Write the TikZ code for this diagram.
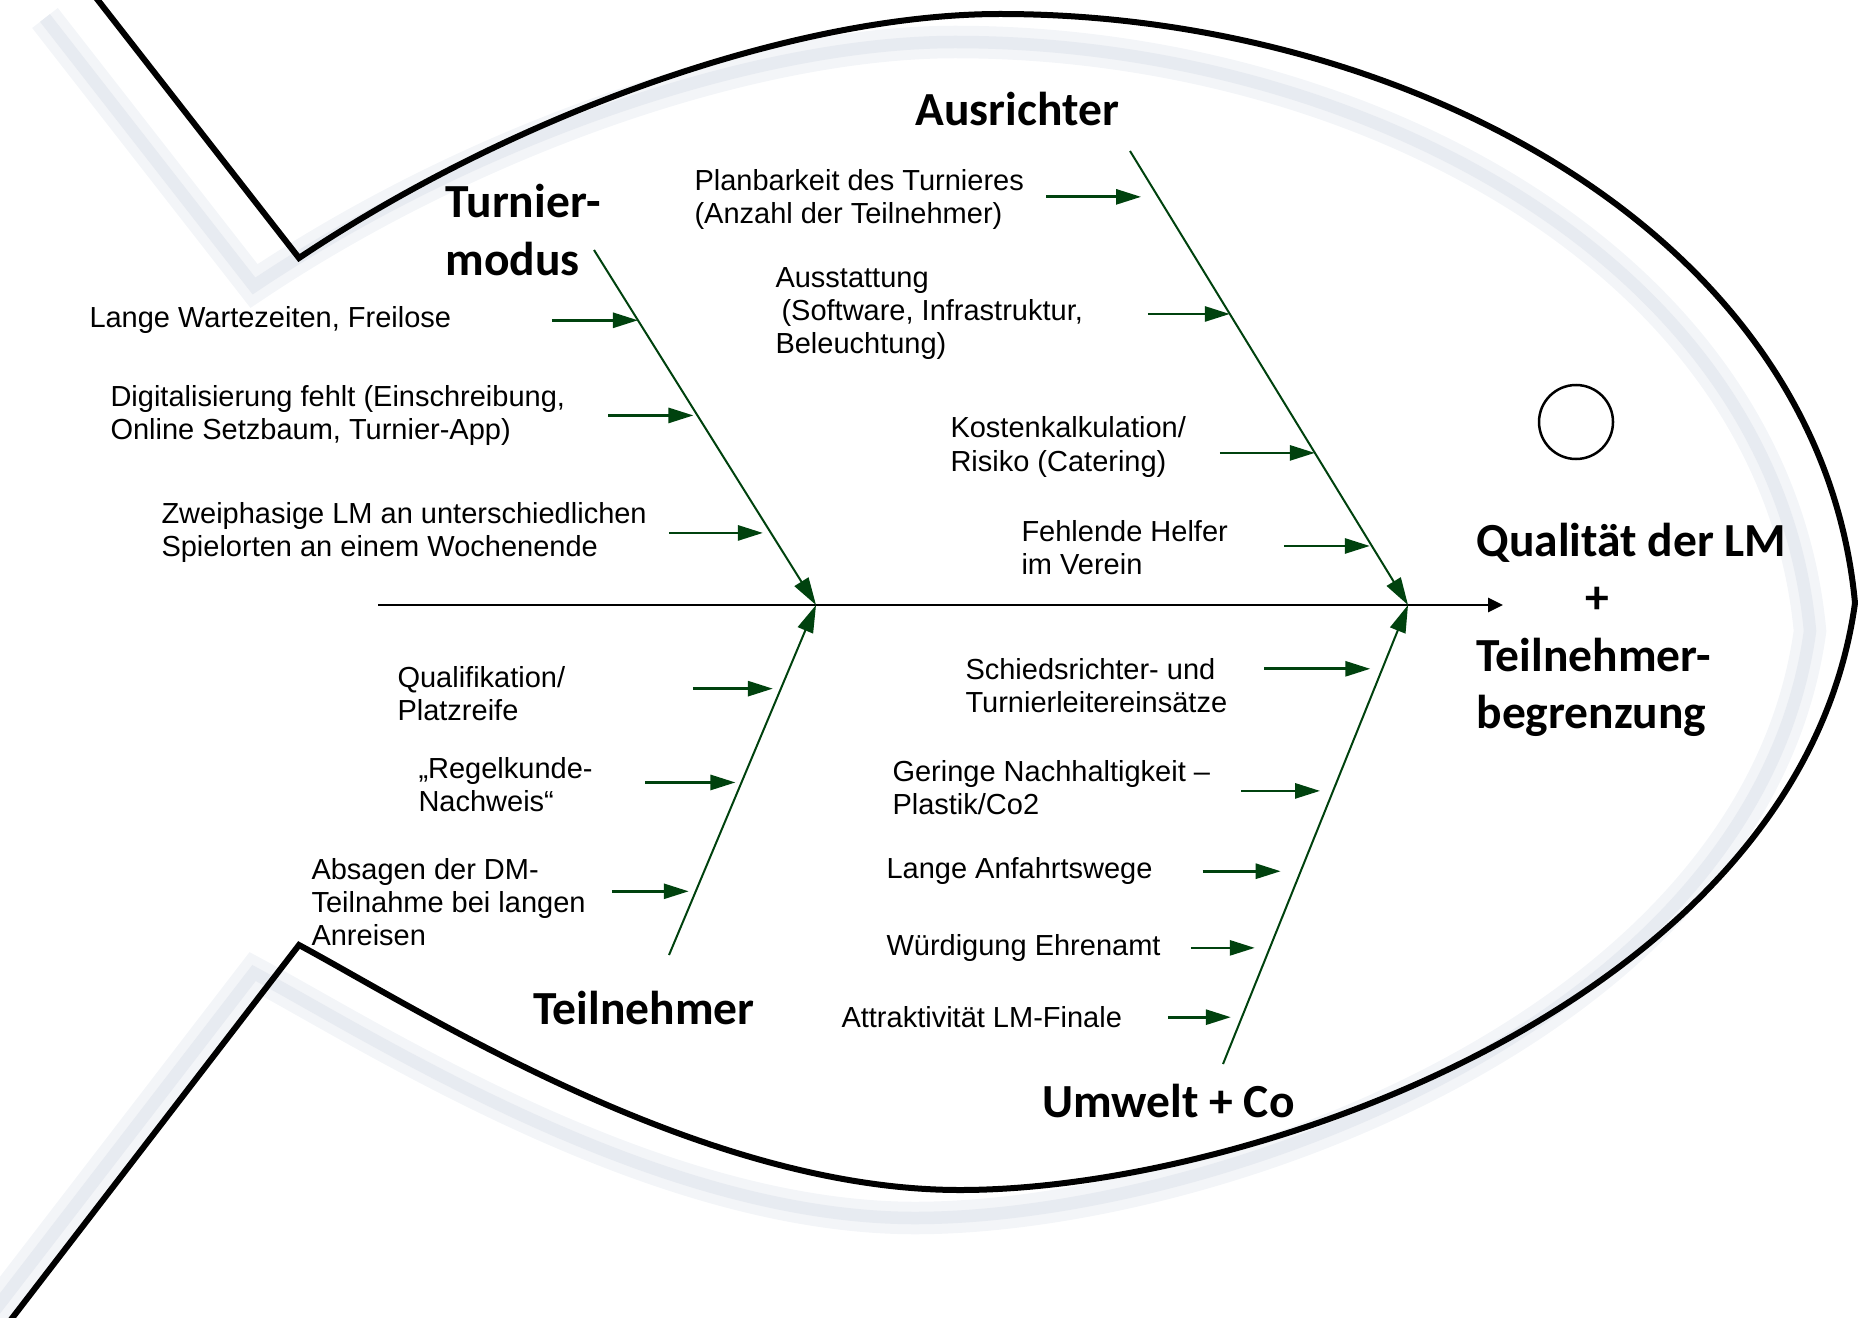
\documentclass[tikz,border=0pt]{standalone}
\usepackage{fontspec}
\setmainfont{Liberation Sans}
\newfontfamily\headfont{Carlito}
\usepackage{xcolor}
\usepackage{tikz}
\usetikzlibrary{arrows.meta,calc}

\definecolor{bonegreen}{RGB}{0,66,14}
\definecolor{shadowpale}{RGB}{243,245,248}
\definecolor{shadowblue}{RGB}{231,235,241}

\begin{document}
\begin{tikzpicture}[x=0.4pt,y=0.4pt,yscale=-1,xscale=1,
    cause/.style={draw=bonegreen, line width=1.1pt, -{Triangle[length=10pt,width=6pt]}},
    bone/.style={draw=bonegreen, line width=0.8pt, -{Triangle[length=11pt,width=6.5pt]}},
    spine/.style={draw=black, line width=1.1pt, -{Triangle[length=6pt,width=5.6pt]}},
    fish/.style={draw=black, line width=2.4pt},
    causetext/.style={anchor=west, inner sep=0pt, align=left, font=\fontsize{11.6}{13.2}\selectfont},
    headtext/.style={inner sep=0pt, align=left, font=\headfont\bfseries\fontsize{19}{23}\selectfont}]

    \useasboundingbox (0,0) rectangle (1858,1318);

    % fish body with its soft shadow
    \draw[fish,
      preaction={draw=shadowpale, line width=13pt, transform canvas={shift={(-45,-28)}}},
      preaction={draw=shadowblue, line width=5pt, transform canvas={shift={(-45,-28)}}}]
      (90,-10) -- (299,258) .. controls (520,110) and (800,14) .. (1000,14)
      .. controls (1400,14) and (1820,230) .. (1855,603)
      .. controls (1800,1000) and (1250,1190) .. (960,1190)
      .. controls (700,1190) and (420,1010) .. (299,945) -- (3,1330);
    \node[draw, circle, line width=1pt, minimum size=29.6pt, inner sep=0pt] (eye) at (1576,422) {};

    % spine
    \coordinate (tail) at (378,605);
    \coordinate (j1) at (816,605);
    \coordinate (j2) at (1408,605);
    \coordinate (mouth) at (1503,605);
    \draw[spine] (tail) -- (mouth);

    % bones
    \coordinate (tmtop) at (594,250);
    \coordinate (tnbot) at (669,955);
    \coordinate (autop) at (1130,151);
    \coordinate (umbot) at (1223,1064);
    \draw[bone] (tmtop) -- (j1);
    \draw[bone] (tnbot) -- (j1);
    \draw[bone] (autop) -- (j2);
    \draw[bone] (umbot) -- (j2);

    % headings
    \node[headtext, anchor=west] (turnier) at (445,230) {Turnier-\\modus};
    \node[headtext, anchor=base west] (ausrichter) at (915,126) {Ausrichter};
    \node[headtext, anchor=base west] (teilnehmer) at (533,1024) {Teilnehmer};
    \node[headtext, anchor=base west] (umwelt) at (1042,1117) {Umwelt + Co};
    \node[headtext, anchor=west] (effect) at (1476,630) {Qualität der LM\\\hspace*{43.6pt}+\\Teilnehmer-\\begrenzung};

    % causes Turniermodus
    \node[causetext] (tm1) at (89,320) {Lange Wartezeiten, Freilose};
    \node[causetext] (tm2) at (110,416) {Digitalisierung fehlt (Einschreibung,\\Online Setzbaum, Turnier-App)};
    \node[causetext] (tm3) at (161,532) {Zweiphasige LM an unterschiedlichen\\Spielorten an einem Wochenende};
    \coordinate (tm1end) at ($(tmtop)!0.198!(j1)$);
    \coordinate (tm1start) at ($(tm1end)+(-86,0)$);
    \coordinate (tm2end) at ($(tmtop)!0.466!(j1)+(-4,0)$);
    \coordinate (tm2start) at ($(tm2end)+(-85,0)$);
    \coordinate (tm3end) at ($(tmtop)!0.797!(j1)+(-8,0)$);
    \coordinate (tm3start) at ($(tm3end)+(-94,0)$);
    \draw[cause] (tm1start) -- (tm1end);
    \draw[cause] (tm2start) -- (tm2end);
    \draw[cause] (tm3start) -- (tm3end);

    % causes Teilnehmer
    \node[causetext] (tn1) at (397,694) {Qualifikation/\\Platzreife};
    \node[causetext] (tn2) at (418,785) {„Regelkunde-\\Nachweis“};
    \node[causetext] (tn3) at (311,902) {Absagen der DM-\\Teilnahme bei langen\\Anreisen};
    \coordinate (tn1end) at ($(tnbot)!0.761!(j1)+(-8,0)$);
    \coordinate (tn1start) at ($(tn1end)+(-80,0)$);
    \coordinate (tn2end) at ($(tnbot)!0.493!(j1)+(-6,0)$);
    \coordinate (tn2start) at ($(tn2end)+(-90,0)$);
    \coordinate (tn3end) at ($(tnbot)!0.182!(j1)+(-7,0)$);
    \coordinate (tn3start) at ($(tn3end)+(-77,0)$);
    \draw[cause] (tn1start) -- (tn1end);
    \draw[cause] (tn2start) -- (tn2end);
    \draw[cause] (tn3start) -- (tn3end);

    % causes Ausrichter
    \node[causetext] (au1) at (694,199) {Planbarkeit des Turnieres\\(Anzahl der Teilnehmer)};
    \node[causetext] (au2) at (775,314) {Ausstattung\\\hspace*{2.4pt}(Software, Infrastruktur,\\Beleuchtung)};
    \node[causetext] (au3) at (950,447) {Kostenkalkulation/\\Risiko (Catering)};
    \node[causetext] (au4) at (1021,548) {Fehlende Helfer\\im Verein};
    \coordinate (au1end) at ($(autop)!0.101!(j2)+(-17,0)$);
    \coordinate (au1start) at ($(au1end)+(-95,0)$);
    \coordinate (au2end) at ($(autop)!0.359!(j2)$);
    \coordinate (au2start) at ($(au2end)+(-82,0)$);
    \coordinate (au3end) at ($(autop)!0.665!(j2)$);
    \coordinate (au3start) at ($(au3end)+(-95,0)$);
    \coordinate (au4end) at ($(autop)!0.870!(j2)+(-2,0)$);
    \coordinate (au4start) at ($(au4end)+(-86,0)$);
    \draw[cause] (au1start) -- (au1end);
    \draw[cause] (au2start) -- (au2end);
    \draw[cause] (au3start) -- (au3end);
    \draw[cause] (au4start) -- (au4end);

    % causes Umwelt
    \node[causetext] (um1) at (965,686) {Schiedsrichter- und\\Turnierleitereinsätze};
    \node[causetext] (um2) at (892,788) {Geringe Nachhaltigkeit –\\Plastik/Co2};
    \node[causetext] (um3) at (886,871) {Lange Anfahrtswege};
    \node[causetext] (um4) at (886,948) {Würdigung Ehrenamt};
    \node[causetext] (um5) at (841,1017) {Attraktivität LM-Finale};
    \coordinate (um1end) at ($(umbot)!0.861!(j2)+(-12,0)$);
    \coordinate (um1start) at ($(um1end)+(-106,0)$);
    \coordinate (um2end) at ($(umbot)!0.595!(j2)+(-13,0)$);
    \coordinate (um2start) at ($(um2end)+(-79,0)$);
    \coordinate (um3end) at ($(umbot)!0.420!(j2)+(-20,0)$);
    \coordinate (um3start) at ($(um3end)+(-78,0)$);
    \coordinate (um4end) at ($(umbot)!0.253!(j2)+(-15,0)$);
    \coordinate (um4start) at ($(um4end)+(-64,0)$);
    \coordinate (um5end) at ($(umbot)!0.102!(j2)+(-11,0)$);
    \coordinate (um5start) at ($(um5end)+(-63,0)$);
    \draw[cause] (um1start) -- (um1end);
    \draw[cause] (um2start) -- (um2end);
    \draw[cause] (um3start) -- (um3end);
    \draw[cause] (um4start) -- (um4end);
    \draw[cause] (um5start) -- (um5end);

\end{tikzpicture}
\end{document}
